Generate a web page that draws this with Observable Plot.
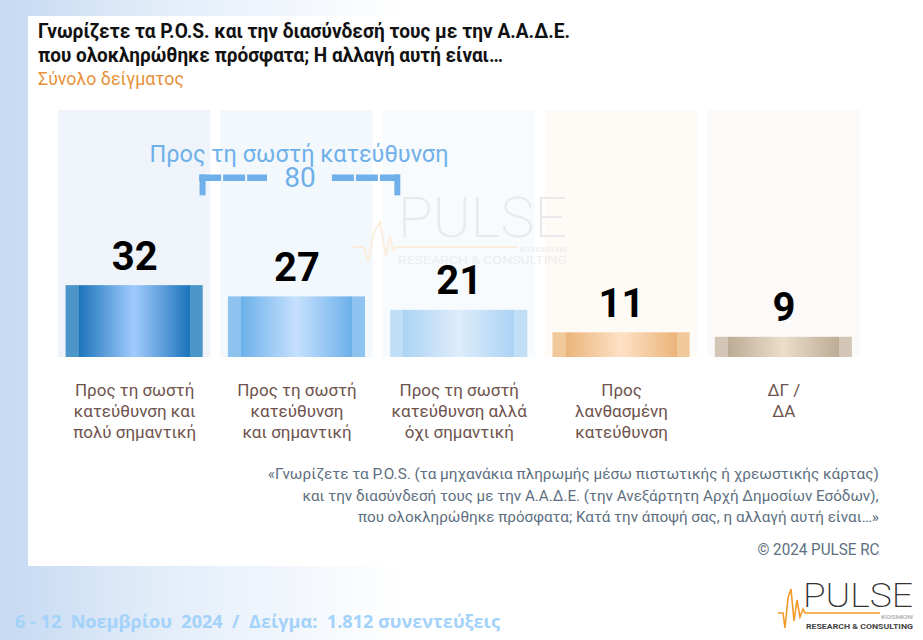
<!DOCTYPE html>
<html>
<head>
<meta charset="utf-8">
<script src="https://cdn.jsdelivr.net/npm/d3@7"></script>
<script src="https://cdn.jsdelivr.net/npm/@observablehq/plot@0.6"></script>
<style>
  html, body { margin: 0; padding: 0; }
  body {
    width: 923px; height: 640px; position: relative; overflow: hidden;
    font-family: Roboto, "Noto Sans", sans-serif;
    background: linear-gradient(to right, #c5d9f2 0px, #e1ecf9 150px, #ffffff 400px);
  }
  #panel { position: absolute; left: 28px; top: 16px; width: 895px; height: 550px; background: #fff; }
  .abs { position: absolute; white-space: pre; }
  .fitL { display: inline-block; transform-origin: left center; }
  .fitR { display: inline-block; transform-origin: right center; }
  #title { left: 38px; top: 19px; font-weight: 700; font-size: 20px; line-height: 24px; color: #111; }
  #subtitle { left: 38px; top: 67px; font-size: 19px; line-height: 24px; color: #e8913a; }
  #chart { position: absolute; left: 0; top: 90px; }
  #note { right: 44px; top: 464px; text-align: right; font-size: 15px; line-height: 21.5px; color: #5d6f80; }
  #copy { right: 44px; top: 540px; font-size: 16px; line-height: 20px; color: #5d6f80; }
  #footer { left: 15px; top: 610px; font-size: 18px; line-height: 22px; font-weight: 700; color: #a3d2fa; font-family: "Open Sans", Roboto, sans-serif; }
  #logo { position: absolute; left: 770px; top: 575px; }
  #wm { position: absolute; left: 340px; top: 185px; pointer-events: none; }
</style>
</head>
<body>
<div id="panel"></div>
<svg width="0" height="0" style="position:absolute"><defs id="gdefs"></defs></svg>

<div id="title" class="abs"><span class="fitL" data-fit="532">Γνωρίζετε τα P.O.S. και την διασύνδεσή τους με την Α.Α.Δ.Ε.</span><br><span class="fitL" data-fit="465">που ολοκληρώθηκε πρόσφατα; Η αλλαγή αυτή είναι…</span></div>
<div id="subtitle" class="abs"><span class="fitL" data-fit="146">Σύνολο δείγματος</span></div>

<div id="chart"></div>

<div id="note" class="abs"><span class="fitR" data-fit="611">«Γνωρίζετε τα P.O.S. (τα μηχανάκια πληρωμής μέσω πιστωτικής ή χρεωστικής κάρτας)</span><br><span class="fitR" data-fit="576">και την διασύνδεσή τους με την Α.Α.Δ.Ε. (την Ανεξάρτητη Αρχή Δημοσίων Εσόδων),</span><br><span class="fitR" data-fit="521">που ολοκληρώθηκε πρόσφατα; Κατά την άποψή σας, η αλλαγή αυτή είναι…»</span></div>
<div id="copy" class="abs"><span class="fitR" data-fit="122">© 2024 PULSE RC</span></div>

<div id="footer" class="abs"><span class="fitL" data-fit="485">6 - 12  Νοεμβρίου  2024  /  Δείγμα:  1.812 συνεντεύξεις</span></div>

<svg id="logo" width="153" height="65" viewBox="770 575 153 65">
  <polyline points="778,613 783,613 785,628 788,598 791,589 794,621 797,600 800,617 803,609 805,613 880,613" fill="none" stroke="#f39a2b" stroke-width="1.6"/>
  <text x="803" y="607" font-family="Roboto" font-weight="200" font-size="33" fill="#333" textLength="110" lengthAdjust="spacingAndGlyphs">PULSE</text>
  <text x="881" y="619" font-family="Roboto" font-weight="700" font-size="5" fill="#b5b5b5" textLength="32" lengthAdjust="spacingAndGlyphs">KOSMON</text>
  <text x="806" y="629" font-family="Roboto" font-weight="700" font-size="7.5" fill="#444" textLength="107" lengthAdjust="spacingAndGlyphs">RESEARCH &amp; CONSULTING</text>
</svg>

<svg id="wm" width="240" height="90" viewBox="340 185 240 90">
  <polyline points="352,247 364,247 368,262 374,232 380,222 386,256 390,236 393,250 396,247 518,247" fill="none" stroke="#fbeede" stroke-width="2"/>
  <text x="398" y="237" font-family="Roboto" font-weight="200" font-size="56" fill="#e8e9ea" textLength="169" lengthAdjust="spacingAndGlyphs">PULSE</text>
  <text x="520" y="252" font-family="Roboto" font-weight="700" font-size="7" fill="#f0f0f0" textLength="47" lengthAdjust="spacingAndGlyphs">KOSMON</text>
  <text x="398" y="264" font-family="Roboto" font-weight="400" font-size="11" fill="#ededed" textLength="169" lengthAdjust="spacingAndGlyphs">RESEARCH &amp; CONSULTING</text>
</svg>

<script>
// ---------- data ----------
const categories = [
  "Προς τη σωστή\nκατεύθυνση και\nπολύ σημαντική",
  "Προς τη σωστή\nκατεύθυνση\nκαι σημαντική",
  "Προς τη σωστή\nκατεύθυνση αλλά\nόχι σημαντική",
  "Προς\nλανθασμένη\nκατεύθυνση",
  "ΔΓ /\nΔΑ"
];
const values = [32, 27, 21, 11, 9];
const bracketLabel = "Προς τη σωστή κατεύθυνση";
const bracketTotal = 80;          // first three categories combined
const bracketCategories = [0, 2]; // index range covered by the bracket

// ---------- styles ----------
const columnColors = ["#eef4fa", "#f3f8fd", "#f7fbfe", "#fefaf6", "#fcfaf8"];
// [edge, dark, light] for each bar gradient
const barPalettes = [
  ["#4b95c9", "#1b74ba", "#a2cbfd"],
  ["#8fc3ef", "#6cb1ea", "#c6e0fd"],
  ["#c1def7", "#acd3f4", "#deecfb"],
  ["#f1c899", "#ebb47a", "#fde1c5"],
  ["#d3c6b6", "#bcab95", "#ecdeca"]
];
const accent = "#6fb0ea";
const labelColor = "#6e534d";

// gradients
const defs = document.getElementById("gdefs");
const NS = "http://www.w3.org/2000/svg";
barPalettes.forEach(([edge, dark, light], i) => {
  const g = document.createElementNS(NS, "linearGradient");
  g.setAttribute("id", "bar" + i);
  g.setAttribute("x1", "0"); g.setAttribute("x2", "1"); g.setAttribute("y1", "0"); g.setAttribute("y2", "0");
  [[0, edge], [0.095, edge], [0.095, dark], [0.5, light], [0.905, dark], [0.905, edge], [1, edge]].forEach(([o, c]) => {
    const s = document.createElementNS(NS, "stop");
    s.setAttribute("offset", o); s.setAttribute("stop-color", c);
    g.appendChild(s);
  });
  defs.appendChild(g);
});

const rows = categories.map((c, i) => ({
  i, cat: c, value: values[i], bar: `url(#bar${i})`, bg: columnColors[i]
}));

const yMax = 110;
const bc = (bracketCategories[0] + bracketCategories[1] + 1) / 2; // bracket centre in x units
const bh = 0.6;   // half width of bracket
const bg = 0.2;   // half gap around the number
const legDrop = 8;

const chart = Plot.plot({
  width: 923,
  height: 370,
  marginLeft: 53,
  marginRight: 58.5,
  marginTop: 20,
  marginBottom: 103,
  style: { background: "transparent", fontFamily: "Roboto, sans-serif" },
  x: { domain: [0, categories.length], axis: null },
  y: { domain: [0, yMax], axis: null },
  color: { type: "identity" },
  marks: [
    Plot.rectY(rows, { x1: d => d.i, x2: d => d.i + 1, y1: 0, y2: yMax, fill: "bg", insetLeft: 5, insetRight: 5 }),
    Plot.rectY(rows, { x1: d => d.i, x2: d => d.i + 1, y1: 0, y2: "value", fill: "bar", insetLeft: 12.6, insetRight: 12.6 }),
    Plot.text(rows, { x: d => d.i + 0.5, y: "value", text: d => String(d.value), dy: -16, lineAnchor: "bottom",
      fontSize: 40, fontWeight: 700, fill: "#000" }),
    Plot.text(rows, { x: d => d.i + 0.5, y: 0, text: "cat", dy: 23, lineAnchor: "top",
      fontSize: 17, lineHeight: 1.25, fill: labelColor }),
    // bracket
    Plot.ruleY([bracketTotal], { x1: bc - bh - 0.018, x2: bc - bg, stroke: accent, strokeWidth: 6.5, strokeDasharray: "22,2", dx: 3 }),
    Plot.ruleY([bracketTotal], { x1: bc + bg, x2: bc + bh + 0.018, stroke: accent, strokeWidth: 6.5, strokeDasharray: "22,2", dx: 3 }),
    Plot.ruleX([bc - bh, bc + bh], { y1: bracketTotal + 1.3, y2: bracketTotal - legDrop, stroke: accent, strokeWidth: 6, dx: 3 }),
    Plot.text([bracketTotal], { x: bc, y: bracketTotal, text: d => String(d), lineAnchor: "middle",
      fontSize: 28, fill: accent, dx: 3 }),
    Plot.text([bracketLabel], { x: bc, y: bracketTotal, text: d => d, lineAnchor: "bottom", dy: -16,
      fontSize: 23.5, fill: accent, dx: 2 })
  ]
});
document.getElementById("chart").appendChild(chart);

// condense text to the widths of the original typography
document.querySelectorAll("[data-fit]").forEach(el => {
  const w = +el.dataset.fit;
  const a = el.getBoundingClientRect().width;
  if (a > 0) el.style.transform = `scaleX(${w / a})`;
});
</script>
</body>
</html>
